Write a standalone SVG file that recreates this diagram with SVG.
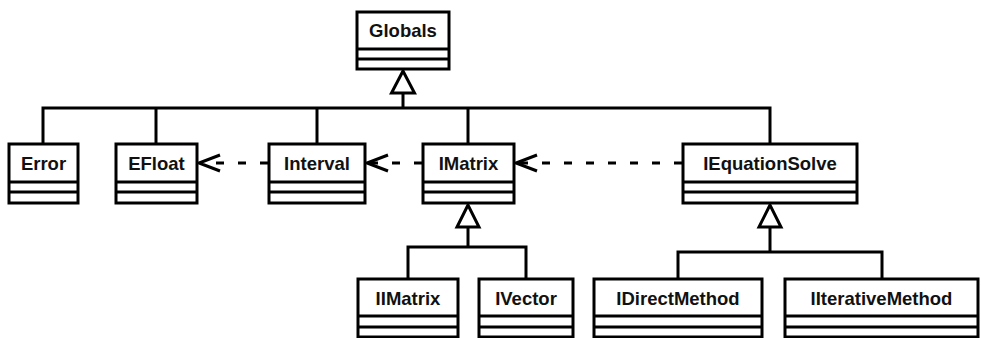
<svg xmlns="http://www.w3.org/2000/svg" width="981" height="338" viewBox="0 0 981 338">
<style>
.box{fill:#fff;stroke:#000;stroke-width:3}
.ln{fill:none;stroke:#000;stroke-width:3}
.dash{fill:none;stroke:#000;stroke-width:3;stroke-dasharray:8,14}
.tri{fill:#fff;stroke:#000;stroke-width:3;stroke-linejoin:miter}
.head{fill:none;stroke:#000;stroke-width:3}
text{font-family:"Liberation Sans",Arial,sans-serif;font-weight:bold;font-size:18.5px;text-anchor:middle;fill:#111}
</style>
<rect width="981" height="338" fill="#fff"/>
<g id="connectors">
<polyline class="ln" points="403,93 403,108"/>
<polyline class="ln" points="43,144 43,108 770,108 770,144"/>
<line class="ln" x1="156" y1="108" x2="156" y2="144"/>
<line class="ln" x1="317" y1="108" x2="317" y2="144"/>
<line class="ln" x1="468" y1="108" x2="468" y2="144"/>
<polygon class="tri" points="403,71 391.5,93 414.5,93"/>
<polyline class="ln" points="468,227 468,247"/>
<polyline class="ln" points="408,279 408,247 526,247 526,279"/>
<polygon class="tri" points="468,205 457,227 479,227"/>
<polyline class="ln" points="770,227 770,252"/>
<polyline class="ln" points="678,279 678,252 882,252 882,279"/>
<polygon class="tri" points="770,205 759,227 781,227"/>
<line class="dash" x1="268" y1="163" x2="201" y2="163"/>
<polyline class="head" points="220,155 199,163 220,171"/>
<line class="dash" x1="422" y1="163" x2="369" y2="163"/>
<polyline class="head" points="388,155 367,163 388,171"/>
<line class="dash" x1="682" y1="163" x2="518" y2="163"/>
<polyline class="head" points="537,155 516,163 537,171"/>
</g>
<g id="Globals">
<rect class="box" x="357" y="12" width="92" height="57"/>
<line class="ln" x1="357" y1="49" x2="449" y2="49"/>
<line class="ln" x1="357" y1="59" x2="449" y2="59"/>
<text x="403" y="37">Globals</text>
</g>
<g id="Error">
<rect class="box" x="9" y="144" width="69" height="59"/>
<line class="ln" x1="9" y1="182" x2="78" y2="182"/>
<line class="ln" x1="9" y1="192" x2="78" y2="192"/>
<text x="43.5" y="170">Error</text>
</g>
<g id="EFloat">
<rect class="box" x="116" y="144" width="81" height="59"/>
<line class="ln" x1="116" y1="182" x2="197" y2="182"/>
<line class="ln" x1="116" y1="192" x2="197" y2="192"/>
<text x="156.5" y="170">EFloat</text>
</g>
<g id="Interval">
<rect class="box" x="269" y="144" width="96" height="59"/>
<line class="ln" x1="269" y1="182" x2="365" y2="182"/>
<line class="ln" x1="269" y1="192" x2="365" y2="192"/>
<text x="317" y="170">Interval</text>
</g>
<g id="IMatrix">
<rect class="box" x="423" y="144" width="91" height="59"/>
<line class="ln" x1="423" y1="182" x2="514" y2="182"/>
<line class="ln" x1="423" y1="192" x2="514" y2="192"/>
<text x="468.5" y="170">IMatrix</text>
</g>
<g id="IEquationSolve">
<rect class="box" x="683" y="144" width="174" height="59"/>
<line class="ln" x1="683" y1="182" x2="857" y2="182"/>
<line class="ln" x1="683" y1="192" x2="857" y2="192"/>
<text x="770" y="170">IEquationSolve</text>
</g>
<g id="IIMatrix">
<rect class="box" x="358" y="279" width="100" height="58"/>
<line class="ln" x1="358" y1="316" x2="458" y2="316"/>
<line class="ln" x1="358" y1="327" x2="458" y2="327"/>
<text x="408" y="305">IIMatrix</text>
</g>
<g id="IVector">
<rect class="box" x="479" y="279" width="94" height="58"/>
<line class="ln" x1="479" y1="316" x2="573" y2="316"/>
<line class="ln" x1="479" y1="327" x2="573" y2="327"/>
<text x="526" y="305">IVector</text>
</g>
<g id="IDirectMethod">
<rect class="box" x="594" y="279" width="168" height="58"/>
<line class="ln" x1="594" y1="316" x2="762" y2="316"/>
<line class="ln" x1="594" y1="327" x2="762" y2="327"/>
<text x="678" y="305">IDirectMethod</text>
</g>
<g id="IIterativeMethod">
<rect class="box" x="785" y="279" width="193" height="58"/>
<line class="ln" x1="785" y1="316" x2="978" y2="316"/>
<line class="ln" x1="785" y1="327" x2="978" y2="327"/>
<text x="881.5" y="305">IIterativeMethod</text>
</g>
</svg>
